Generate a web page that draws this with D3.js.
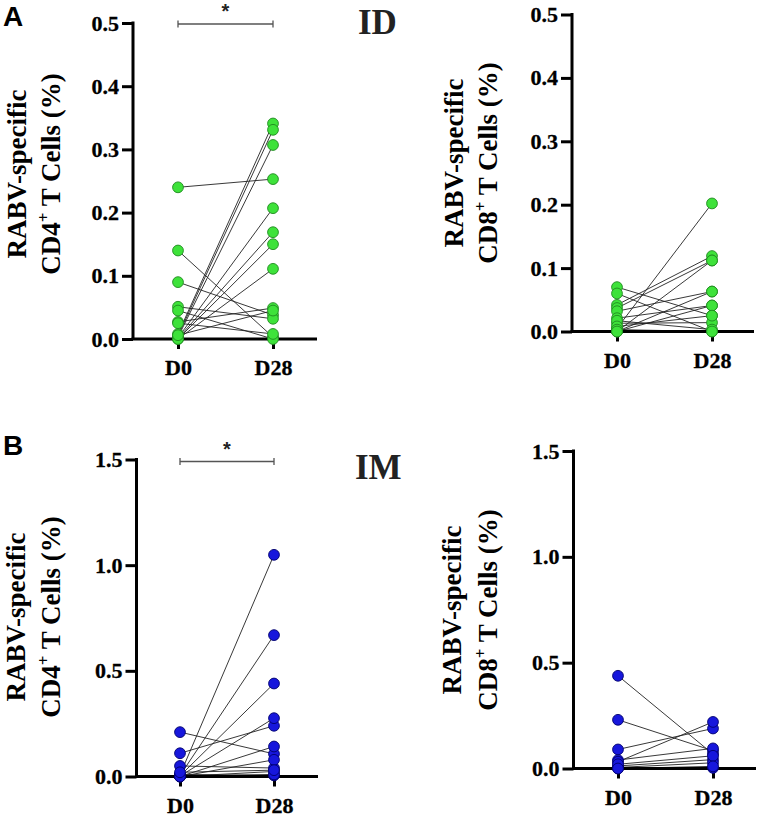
<!DOCTYPE html>
<html>
<head>
<meta charset="utf-8">
<script src="https://cdn.jsdelivr.net/npm/d3@7/dist/d3.min.js"></script>
<style>
  body { margin: 0; background: #fff; }
  svg { display: block; }
  .serif { font-family: "Liberation Serif", "Times New Roman", serif; font-weight: bold; }
  .sans { font-family: "Liberation Sans", Arial, sans-serif; font-weight: bold; }
</style>
</head>
<body>
<svg id="chart" width="760" height="816"></svg>
<script>
// ---------------- DATA ----------------
const timepoints = ["D0", "D28"];

// ID group, CD4+ (paired D0 -> D28 per subject)
const idCD4_D0  = [0.240, 0.140, 0.090, 0.051, 0.045, 0.027, 0.025, 0.008, 0.005, 0.003, 0.002, 0.001, 0.000, 0.000, 0.006];
const idCD4_D28 = [0.253, 0.003, 0.038, 0.032, 0.000, 0.049, 0.008, 0.341, 0.331, 0.307, 0.207, 0.169, 0.150, 0.111, 0.045];

// ID group, CD8+
const idCD8_D0  = [0.070, 0.060, 0.042, 0.037, 0.032, 0.021, 0.013, 0.005, 0.000, 0.000, 0.017, 0.008, 0.003, 0.000];
const idCD8_D28 = [0.025, 0.000, 0.119, 0.112, 0.063, 0.041, 0.014, 0.202, 0.112, 0.041, 0.003, 0.025, 0.000, 0.063];

// IM group, CD4+
const imCD4_D0  = [0.210, 0.110, 0.050, 0.008, 0.005, 0.003, 0.002, 0.000, 0.000, 0.000, 0.010, 0.000, 0.020];
const imCD4_D28 = [0.107, 0.240, 0.040, 1.049, 0.669, 0.440, 0.276, 0.142, 0.079, 0.024, 0.005, 0.010, 0.030];

// IM group, CD8+
const imCD8_D0  = [0.438, 0.230, 0.090, 0.040, 0.032, 0.012, 0.005, 0.000, 0.020, 0.000];
const imCD8_D28 = [0.068, 0.084, 0.189, 0.095, 0.220, 0.042, 0.027, 0.003, 0.060, 0.010];

const yTicksID = [0, 0.1, 0.2, 0.3, 0.4, 0.5];
const yTicksIM = [0, 0.5, 1.0, 1.5];

// ---------------- LAYOUT ----------------
const svg = d3.select("#chart");
const serif = "Liberation Serif, Times New Roman, serif";

const green = { fill: "#3ee23a", stroke: "#1f8a1f" };
const blue  = { fill: "#1717dc", stroke: "#00006e" };

const panels = [
  { d0: idCD4_D0, d28: idCD4_D28, ticks: yTicksID, max: 0.5, col: green,
    ax: 133, y0: 339, yTop: 23, xEnd: 317, x0: 178, x1: 273,
    cell: "CD4", titleX: [26, 60], titleY: 174, sig: true, sigY: 24 },
  { d0: idCD8_D0, d28: idCD8_D28, ticks: yTicksID, max: 0.5, col: green,
    ax: 572, y0: 331.5, yTop: 14.5, xEnd: 754, x0: 617, x1: 712,
    cell: "CD8", titleX: [463, 497], titleY: 163, sig: false },
  { d0: imCD4_D0, d28: imCD4_D28, ticks: yTicksIM, max: 1.5, col: blue,
    ax: 136.5, y0: 776.5, yTop: 459.5, xEnd: 318, x0: 180, x1: 274,
    cell: "CD4", titleX: [25, 60], titleY: 617, sig: true, sigY: 461.5 },
  { d0: imCD8_D0, d28: imCD8_D28, ticks: yTicksIM, max: 1.5, col: blue,
    ax: 573.5, y0: 768.5, yTop: 451, xEnd: 756, x0: 618, x1: 713,
    cell: "CD8", titleX: [461, 497], titleY: 610, sig: false }
];

panels.forEach(p => {
  const y = d3.scaleLinear().domain([0, p.max]).range([p.y0, p.yTop]);
  const x = d3.scalePoint().domain(timepoints).range([p.x0, p.x1]);
  const g = svg.append("g");

  // paired lines
  const pairs = p.d0.map((v, i) => [v, p.d28[i]]);
  g.selectAll("line.pair").data(pairs).enter().append("line")
    .attr("class", "pair")
    .attr("x1", x("D0")).attr("y1", d => y(d[0]))
    .attr("x2", x("D28")).attr("y2", d => y(d[1]))
    .attr("stroke", "#222").attr("stroke-width", 0.9);

  // y axis
  const yAxis = d3.axisLeft(y).tickValues(p.ticks).tickFormat(d3.format(".1f"))
    .tickSize(11).tickSizeOuter(0).tickPadding(3);
  const ya = g.append("g").attr("transform", `translate(${p.ax},0)`).call(yAxis)
    .attr("font-family", serif).attr("font-size", 22).attr("font-weight", "bold");
  ya.select(".domain").attr("stroke", "#000").attr("stroke-width", 3)
    .attr("d", `M0,${p.yTop - 1.5}V${p.y0}`);
  ya.selectAll(".tick line").attr("stroke", "#000").attr("stroke-width", 3);
  ya.selectAll(".tick text").attr("fill", "#000").attr("class", "serif").attr("font-size", 22)
    .attr("stroke", "#000").attr("stroke-width", 0.3);

  // x axis
  const xAxis = d3.axisBottom(x).tickSize(10).tickSizeOuter(0);
  const xa = g.append("g").attr("transform", `translate(0,${p.y0})`).call(xAxis)
    .attr("font-family", serif).attr("font-size", 22).attr("font-weight", "bold");
  xa.select(".domain").remove();
  xa.selectAll(".tick line").attr("stroke", "#000").attr("stroke-width", 3);
  xa.selectAll(".tick text").attr("fill", "#000").attr("y", 36).attr("dy", 0)
    .attr("class", "serif").attr("font-size", 22)
    .attr("stroke", "#000").attr("stroke-width", 0.3);
  g.append("line")
    .attr("x1", p.ax - 1.5).attr("x2", p.xEnd)
    .attr("y1", p.y0).attr("y2", p.y0)
    .attr("stroke", "#000").attr("stroke-width", 3);

  // dots (D0 then D28)
  const pts = [];
  p.d0.forEach(v => pts.push({ t: "D0", v }));
  p.d28.forEach(v => pts.push({ t: "D28", v }));
  g.selectAll("circle").data(pts).enter().append("circle")
    .attr("cx", d => x(d.t)).attr("cy", d => y(d.v)).attr("r", 5.4)
    .attr("fill", p.col.fill).attr("stroke", p.col.stroke).attr("stroke-width", 0.9);

  // y title (two rotated lines)
  g.append("text")
    .attr("class", "serif").attr("font-size", 27)
    .attr("transform", `translate(${p.titleX[0]},${p.titleY}) rotate(-90)`)
    .attr("text-anchor", "middle")
    .text("RABV-specific");
  const t2 = g.append("text")
    .attr("class", "serif").attr("font-size", 27)
    .attr("transform", `translate(${p.titleX[1]},${p.titleY}) rotate(-90)`)
    .attr("text-anchor", "middle");
  t2.append("tspan").text(p.cell);
  t2.append("tspan").attr("dy", -11).attr("font-size", 17).text("+");
  t2.append("tspan").attr("dy", 11).text(" T Cells (%)");

  // significance bracket
  if (p.sig) {
    const bx0 = x("D0"), bx1 = x("D28");
    g.append("path")
      .attr("d", `M${bx0},${p.sigY - 3.5}V${p.sigY + 3.5}M${bx0},${p.sigY}H${bx1}M${bx1},${p.sigY - 3.5}V${p.sigY + 3.5}`)
      .attr("fill", "none").attr("stroke", "#555").attr("stroke-width", 1.3);
    g.append("text")
      .attr("class", "sans").attr("font-size", 20)
      .attr("x", (bx0 + bx1) / 2).attr("y", p.sigY - 6)
      .attr("text-anchor", "middle")
      .attr("fill", "#222")
      .text("*");
  }
});

// panel letters and group labels
svg.append("text").attr("class", "sans").attr("font-size", 28).attr("x", 3).attr("y", 26).text("A");
svg.append("text").attr("class", "sans").attr("font-size", 28).attr("x", 3).attr("y", 455).text("B");
svg.append("text").attr("class", "serif").attr("font-size", 35).attr("x", 358).attr("y", 34).attr("fill", "#222").text("ID");
svg.append("text").attr("class", "serif").attr("font-size", 35).attr("x", 355).attr("y", 479).attr("fill", "#222").text("IM");
</script>
</body>
</html>
